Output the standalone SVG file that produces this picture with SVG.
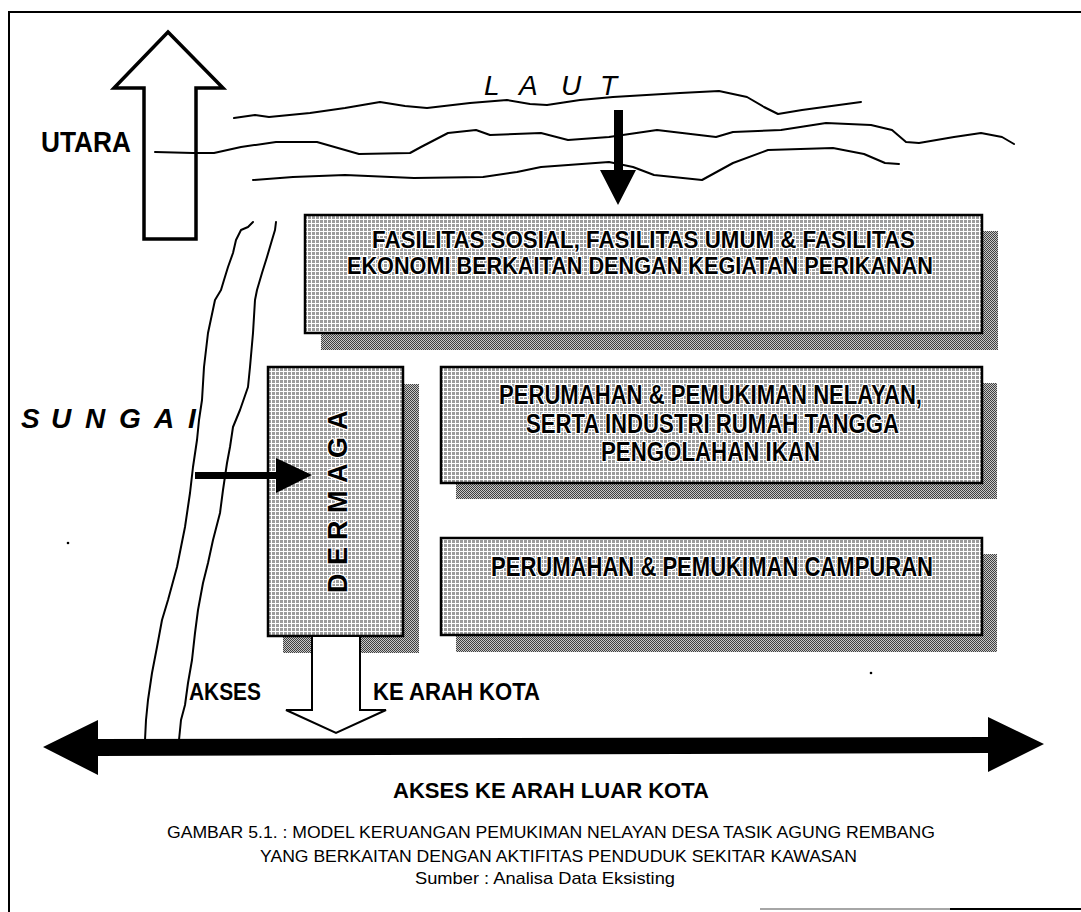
<svg xmlns="http://www.w3.org/2000/svg" width="1081" height="912" viewBox="0 0 1081 912">
<defs>
<pattern id="mesh" width="4" height="4" patternUnits="userSpaceOnUse"><rect width="4" height="4" fill="#ffffff"/><rect width="3" height="3" fill="#9c9c9c"/></pattern>
<pattern id="hatch" width="2" height="2" patternUnits="userSpaceOnUse"><rect width="2" height="2" fill="#c8c8c8"/><rect width="1" height="1" fill="#404040"/><rect x="1" y="1" width="1" height="1" fill="#404040"/></pattern>
<style>
.ln{fill:none;stroke:#000;stroke-width:2;stroke-linejoin:round;stroke-linecap:round}
.box{fill:url(#mesh);stroke:#000;stroke-width:2.5}
.shadow{fill:url(#hatch)}
.bt{font-family:"Liberation Sans Narrow","Liberation Sans",Arial,sans-serif;font-weight:bold;fill:#000;stroke:#fff;stroke-width:2.5;paint-order:stroke;stroke-linejoin:round}
.lbl{font-family:"Liberation Sans Narrow","Liberation Sans",Arial,sans-serif;font-weight:bold;fill:#000}
.cap{font-family:"Liberation Sans Narrow","Liberation Sans",Arial,sans-serif;font-size:17px;fill:#000}
.ital{font-family:"Liberation Sans",Arial,sans-serif;font-style:italic;fill:#000}
</style>
</defs>
<rect width="1081" height="912" fill="#fff"/>
<g id="frame" fill="none" stroke="#000">
<path d="M9 912 V12 H1081" stroke-width="2"/>
<path d="M760 909 H950" stroke="#888" stroke-width="1.5"/>
<path d="M950 909 H1081" stroke-width="2"/>
</g>
<g id="sea">
<polyline class="ln" points="234,118 255,115 269,117 310,113 345,108 380,102 405,106 427,108 470,103 507,100 530,104 547,105 580,100 613,97 680,93 719,91 747,97 764,107 778,114 802,110 861,102"/>
<polyline class="ln" points="155,152 193,153 214,153 241,147 276,142 317,142 359,154 410,153 421,147 448,133 476,130 490,135 541,133 568,140 609,137 657,130 716,137 733,132 781,130 826,123 871,125 892,130 906,142 919,143 954,137 981,133 1002,137 1014,144"/>
<polyline class="ln" points="253,180 293,177 345,175 414,178 483,177 517,172 541,167 609,162 633,167 654,175 702,180 733,163 768,150 833,148 864,154 885,163 899,164"/>
</g>
<g id="north-arrow">
<polygon points="168,32 223,88 196,88 196,239 144,239 144,88 114,88" fill="none" stroke="#000" stroke-width="3.5" stroke-linejoin="miter"/>
<text class="lbl" x="41" y="152" font-size="30" textLength="90" lengthAdjust="spacingAndGlyphs">UTARA</text>
</g>
<g id="label-laut">
<text class="ital" font-size="28" y="95"><tspan x="484">L</tspan><tspan x="519">A</tspan><tspan x="561">U</tspan><tspan x="600">T</tspan></text>
</g>
<g id="river">
<polyline class="ln" points="253,222 248,227 241,230 236,240 233,253 228,267 224,280 221,290 215,300 208,333 204,367 202,400 199,420 197,440 193,467 190,493 185,527 177,567 168,600 162,620 157,647 152,673 148,700 146,720 145,740"/>
<polyline class="ln" points="276,222 275,230 272,240 267,257 262,273 257,290 255,300 253,333 250,367 248,387 240,410 233,427 230,447 227,463 223,490 220,513 213,540 208,563 203,583 198,610 195,633 192,660 188,683 185,705 181,720 179,740"/>
</g>
<g id="label-sungai">
<text class="lbl" font-style="italic" font-size="28" y="428"><tspan x="21">S</tspan><tspan x="51">U</tspan><tspan x="85">N</tspan><tspan x="119">G</tspan><tspan x="154">A</tspan><tspan x="188">I</tspan></text>
</g>
<g id="box-fasilitas">
<rect class="shadow" x="321" y="231" width="677" height="119"/>
<rect class="box" x="305" y="215" width="677" height="118"/>
<text class="bt" font-size="23" x="372" y="248" textLength="543" lengthAdjust="spacingAndGlyphs">FASILITAS SOSIAL, FASILITAS UMUM &amp; FASILITAS</text>
<text class="bt" font-size="23" x="347" y="274" textLength="586" lengthAdjust="spacingAndGlyphs">EKONOMI BERKAITAN DENGAN KEGIATAN PERIKANAN</text>
</g>
<g id="box-perumahan-nelayan">
<rect class="shadow" x="456" y="383" width="541" height="116"/>
<rect class="box" x="441" y="367" width="541" height="116"/>
<text class="bt" font-size="27" x="499" y="404" textLength="423" lengthAdjust="spacingAndGlyphs">PERUMAHAN &amp; PEMUKIMAN NELAYAN,</text>
<text class="bt" font-size="27" x="526" y="433" textLength="373" lengthAdjust="spacingAndGlyphs">SERTA INDUSTRI RUMAH TANGGA</text>
<text class="bt" font-size="27" x="601" y="461" textLength="219" lengthAdjust="spacingAndGlyphs">PENGOLAHAN IKAN</text>
</g>
<g id="box-perumahan-campuran">
<rect class="shadow" x="456" y="554" width="541" height="98"/>
<rect class="box" x="441" y="538" width="541" height="97"/>
<text class="bt" font-size="28" x="491" y="576" textLength="442" lengthAdjust="spacingAndGlyphs">PERUMAHAN &amp; PEMUKIMAN CAMPURAN</text>
</g>
<g id="box-dermaga">
<rect class="shadow" x="283" y="384" width="136" height="269"/>
<rect class="box" x="268" y="367" width="135" height="269"/>
<text class="bt" font-size="27" transform="translate(347,593) rotate(-90)" y="0"><tspan x="0">D</tspan><tspan x="28">E</tspan><tspan x="53">R</tspan><tspan x="80">M</tspan><tspan x="110">A</tspan><tspan x="135">G</tspan><tspan x="163">A</tspan></text>
</g>
<g id="connectors">
<polygon id="arrow-laut" points="614,110 623,110 623,170 636,170 618,205 600,170 614,170" fill="#000"/>
<polygon id="arrow-sungai" points="195,472 276,472 276,458 312,475 276,493 276,479 195,479" fill="#000"/>
<polygon id="arrow-kota" points="312,636 360,636 360,710 386,710 336,733 286,710 312,710 312,636" fill="#fff" stroke="#000" stroke-width="2" stroke-linejoin="miter"/>
<polygon id="arrow-luar-kota" points="43,747 98,720 98,739 988,737 988,717 1044,744 988,772 988,753 98,756 98,775" fill="#000"/>
</g>
<g id="labels">
<text class="lbl" font-size="24" x="189" y="700" textLength="72" lengthAdjust="spacingAndGlyphs">AKSES</text>
<text class="lbl" font-size="24" x="373" y="700" textLength="167" lengthAdjust="spacingAndGlyphs">KE ARAH KOTA</text>
<text class="lbl" font-size="22" x="393" y="798" textLength="316" lengthAdjust="spacingAndGlyphs">AKSES KE ARAH LUAR KOTA</text>
</g>
<g id="caption">
<text class="cap" x="167" y="838" textLength="768" lengthAdjust="spacingAndGlyphs">GAMBAR 5.1. : MODEL KERUANGAN PEMUKIMAN NELAYAN DESA TASIK AGUNG REMBANG</text>
<text class="cap" x="260" y="862" textLength="597" lengthAdjust="spacingAndGlyphs">YANG BERKAITAN DENGAN AKTIFITAS PENDUDUK SEKITAR KAWASAN</text>
<text class="cap" x="415" y="884" textLength="260" lengthAdjust="spacingAndGlyphs">Sumber : Analisa Data Eksisting</text>
</g>
<g id="specks" fill="#000">
<circle cx="68" cy="543" r="1.3"/>
<circle cx="871" cy="673" r="1.3"/>
</g>
</svg>
